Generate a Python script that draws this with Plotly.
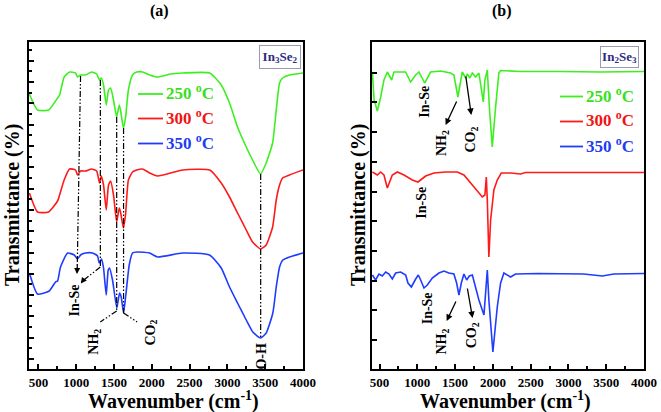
import plotly.graph_objects as go

# ---------------- data: panel (a) In3Se2 ----------------
wn_a_250 = [380, 488, 634, 753, 780, 840, 912, 990, 1017, 1057, 1123, 1202, 1270, 1308, 1331, 1361, 1397, 1427, 1455,
            1493, 1535, 1569, 1586, 1624, 1652, 1690, 1745, 1800, 1878, 1971, 2076, 2250, 2409, 2766, 2918, 3028, 3134,
            3249, 3333, 3438, 3513, 3598, 3646, 3690, 3730, 3820, 4000]
t_a_250 = [275, 259, 259, 271, 274, 292, 297, 296, 292, 294, 294, 297, 295, 289, 291, 284, 264, 279, 281,
           269, 252, 264, 259, 241, 251, 279, 294, 297, 297, 294, 292, 295, 296, 296, 284, 266, 242,
           222, 209, 195, 206, 226, 259, 286, 291, 294, 296]

wn_a_300 = [380, 488, 634, 753, 780, 840, 912, 990, 1017, 1057, 1123, 1202, 1270, 1308, 1331, 1361, 1397, 1427, 1455,
            1493, 1535, 1569, 1586, 1624, 1652, 1690, 1745, 1800, 1878, 1971, 2076, 2409, 2766, 2918, 3028, 3134,
            3249, 3333, 3438, 3513, 3598, 3646, 3690, 3730, 3820, 4000]
t_a_300 = [176, 157, 157, 168, 174, 189, 200, 199, 194, 198, 198, 200, 198, 186, 193, 184, 159, 184, 188,
           174, 147, 161, 157, 141, 154, 189, 197, 199, 200, 196, 193, 199, 199, 186, 172, 156,
           139, 127, 120, 124, 142, 169, 184, 191, 194, 199]

wn_a_350 = [380, 488, 643, 726, 753, 792, 885, 974, 1017, 1057, 1123, 1216, 1282, 1304, 1335, 1361, 1397, 1423, 1440,
            1480, 1537, 1573, 1595, 1626, 1656, 1701, 1745, 1811, 1970, 2076, 2406, 2763, 2918, 3028, 3134, 3249,
            3336, 3438, 3513, 3601, 3646, 3690, 3733, 3822, 4000]
t_a_350 = [96, 75, 78, 87, 88, 102, 116, 114, 110, 114, 116, 116, 113, 106, 110, 101, 74, 99, 101,
           89, 61, 76, 72, 56, 74, 104, 116, 117, 116, 112, 116, 114, 101, 82, 66, 49,
           37, 31, 36, 56, 82, 102, 109, 112, 116]

# ---------------- data: panel (b) In2Se3 ----------------
wn_b_250 = [405, 428, 471, 515, 558, 603, 660, 690, 845, 911, 978, 1022, 1097, 1176, 1308, 1440, 1484, 1537, 1595,
            1639, 1661, 1696, 1728, 1771, 1815, 1837, 1873, 1894, 1926, 1956, 1992, 2036, 2079, 2102, 2366, 2895,
            3425, 4000]
t_b_250 = [297, 269, 258, 272, 289, 297, 289, 297, 297, 287, 294, 297, 286, 297, 298, 296, 294, 272, 297,
           291, 295, 291, 296, 292, 296, 284, 267, 289, 299, 259, 222, 262, 296, 298.5, 297.5, 297.5,
           297, 297.5]

wn_b_300 = [405, 471, 515, 558, 603, 638, 669, 736, 823, 934, 1008, 1110, 1220, 1374, 1529, 1617, 1705, 1794, 1860,
            1894, 1913, 1926, 1947, 1970, 2013, 2058, 2111, 2234, 2366, 2432, 4000]
t_b_300 = [197, 194, 197, 194, 181, 189, 194, 197, 194, 189, 187, 193, 196, 197, 197, 194, 186, 177, 172,
           174, 192, 169, 112, 149, 179, 189, 196, 196, 195, 196.5, 196.5]

wn_b_350 = [405, 448, 492, 536, 581, 625, 669, 713, 780, 846, 876, 921, 978, 1013, 1044, 1088, 1132, 1198, 1286,
            1352, 1418, 1484, 1520, 1551, 1582, 1617, 1653, 1688, 1728, 1771, 1815, 1882, 1900, 1926, 1947, 2000,
            2058, 2102, 2146, 2234, 2300, 2600, 3200, 3450, 3600, 4000]
t_b_350 = [94, 89, 95, 93, 97, 95, 90, 96, 97, 94, 86, 82, 90, 94, 89, 81, 84, 91, 96,
           98, 96, 95, 86, 74, 86, 95, 89, 93, 94, 82, 69, 54, 69, 99, 69, 17,
           62, 86, 96, 92, 95, 95.5, 95, 93, 95, 95.5]

series_names = ["250 <sup>o</sup>C", "300 <sup>o</sup>C", "350 <sup>o</sup>C"]
line_colors = ["#3cf020", "#ff1a1a", "#1f3cff"]
text_colors = ["#38e01c", "#f01414", "#1f3cf0"]

W, H = 661, 412
FONT = "Liberation Serif"


def px(x):
    return x / W


def py(y):
    return 1 - y / H


fig = go.Figure()
panel_a = [(wn_a_250, t_a_250), (wn_a_300, t_a_300), (wn_a_350, t_a_350)]
panel_b = [(wn_b_250, t_b_250), (wn_b_300, t_b_300), (wn_b_350, t_b_350)]
for i, (xs, ys) in enumerate(panel_a):
    fig.add_trace(go.Scatter(x=xs, y=ys, mode="lines", xaxis="x", yaxis="y", showlegend=False,
                             line=dict(color=line_colors[i], width=1.6, shape="spline", smoothing=0.5)))
for i, (xs, ys) in enumerate(panel_b):
    fig.add_trace(go.Scatter(x=xs, y=ys, mode="lines", xaxis="x2", yaxis="y2", showlegend=False,
                             line=dict(color=line_colors[i], width=1.6)))

tickfont = dict(family=FONT, size=13, color="black", weight="bold")
common_x = dict(range=[375, 4000], tickvals=[500, 1000, 1500, 2000, 2500, 3000, 3500, 4000],
                ticks="inside", ticklen=5, tickwidth=1.5, tickcolor="black",
                minor=dict(ticks="inside", ticklen=3, dtick=250, tick0=0, tickcolor="black"),
                showline=True, linewidth=2, linecolor="black", mirror=True, showgrid=False, zeroline=False,
                tickfont=tickfont, fixedrange=True, automargin=False)
common_y = dict(range=[0, 327], showticklabels=False, ticks="inside", ticklen=5, tickwidth=1.5,
                tickcolor="black", showline=True, linewidth=2, linecolor="black", mirror=True,
                showgrid=False, zeroline=False, automargin=False, fixedrange=True)
ydom = [py(369), py(42)]
fig.update_layout(
    template="none",
    width=W, height=H, margin=dict(l=0, r=0, t=0, b=0, autoexpand=False),
    paper_bgcolor="white", plot_bgcolor="white",
    xaxis=dict(domain=[px(29), px(303)], anchor="y", **common_x),
    xaxis2=dict(domain=[px(372), px(644)], anchor="y2", **{**common_x, "range": [400, 4000]}),
    yaxis=dict(domain=ydom, anchor="x", tick0=10, dtick=21.3,
               minor=dict(ticks="inside", ticklen=3, dtick=10.65, tick0=10, tickcolor="black"), **common_y),
    yaxis2=dict(domain=ydom, anchor="x2", tick0=29, dtick=29.7, **common_y),
)

ann = []
shapes = []
C = dict(xanchor="center", yanchor="middle", showarrow=False)

# panel labels and axis titles
for x, t in [(159, "(a)"), (502, "(b)")]:
    ann.append(dict(x=px(x), y=py(11), xref="paper", yref="paper", text="<b>%s</b>" % t,
                    font=dict(family=FONT, size=16, color="black"), **C))
for x in [173, 505]:
    ann.append(dict(x=px(x), y=py(400), xref="paper", yref="paper",
                    text="<b>Wavenumber (cm<sup>-1</sup>)</b>",
                    font=dict(family=FONT, size=20, color="black"), **C))
for x in [12, 358]:
    ann.append(dict(x=px(x), y=py(205), xref="paper", yref="paper", text="<b>Transmittance (%)</b>",
                    textangle=-90, font=dict(family=FONT, size=20, color="black"), **C))

# legends
for (x0, x1, ys) in [(138, 163, [94, 118.5, 143.5]), (560, 583, [96.5, 121.5, 146.5])]:
    for i, y in enumerate(ys):
        shapes.append(dict(type="line", xref="paper", yref="paper", x0=px(x0), x1=px(x1), y0=py(y), y1=py(y),
                           line=dict(color=line_colors[i], width=1.8)))
        ann.append(dict(x=px(x1 + 1), y=py(y - 2), xref="paper", yref="paper", xanchor="left", yanchor="middle",
                        text="<b>%s</b>" % series_names[i], showarrow=False,
                        font=dict(family=FONT, size=17, color=text_colors[i])))

# compound boxes
for (cx, cy, w, h, t) in [(279.5, 57, 38, 20, "In<sub>3</sub>Se<sub>2</sub>"),
                          (619.5, 56.5, 35, 18, "In<sub>2</sub>Se<sub>3</sub>")]:
    ann.append(dict(x=px(cx), y=py(cy), xref="paper", yref="paper", text="<b>%s</b>" % t,
                    width=w, height=h, bordercolor="#9a9ab4", borderwidth=1, borderpad=1, bgcolor="white",
                    font=dict(family=FONT, size=13, color="#2c2c80"), **C))

# panel (a): dash-dot guide lines with arrowheads
dd = dict(color="black", width=1.2, dash="6px,2px,1.5px,2px,1.5px,2px")
segs_a = [
    (1057, 293, 1013, 100),
    (1319, 289, 1319, 102), (1319, 102, 1066, 87),
    (1535, 252, 1535, 58), (1535, 58, 1318, 47),
    (1626, 241, 1626, 56), (1626, 56, 1805, 47),
    (3440, 195, 3440, 31),
]
for (x0, y0, x1, y1) in segs_a:
    shapes.append(dict(type="line", xref="x", yref="y", x0=x0, y0=y0, x1=x1, y1=y1, line=dd))
heads_a = [((1015, 106), (1010, 95)), ((1090, 88.5), (1061, 85.5)), ((1340, 48), (1308, 46)),
           ((1790, 48), (1815, 46))]
for (tail, head) in heads_a:
    ann.append(dict(x=head[0], y=head[1], ax=tail[0], ay=tail[1], xref="x", yref="y", axref="x", ayref="y",
                    text="", showarrow=True, arrowhead=2, arrowsize=1, arrowwidth=1.2, arrowcolor="black",
                    standoff=0, startstandoff=0))

labels_a = [(964, 68, "In-Se"), (1230, 27, "NH<sub>2</sub>"), (1983, 36, "CO<sub>2</sub>"), (3439, 13, "O-H")]
for (x, y, t) in labels_a:
    ann.append(dict(x=x, y=y, xref="x", yref="y", text="<b>%s</b>" % t, textangle=-90,
                    font=dict(family=FONT, size=14, color="black"), **C))

# panel (b): arrows and labels
arrows_b = [((1529, 269), (1374, 244)), ((1639, 294), (1714, 254)),
            ((1520, 69), (1388, 48)), ((1659, 82), (1731, 51))]
for (tail, head) in arrows_b:
    ann.append(dict(x=head[0], y=head[1], ax=tail[0], ay=tail[1], xref="x2", yref="y2", axref="x2", ayref="y2",
                    text="", showarrow=True, arrowhead=2, arrowsize=1, arrowwidth=1.3, arrowcolor="black",
                    standoff=0, startstandoff=0))
labels_b = [(1097, 267, "In-Se"), (1341, 226, "NH<sub>2</sub>"), (1718, 229, "CO<sub>2</sub>"),
            (1057, 166, "In-Se"),
            (1132, 61, "In-Se"), (1328, 27.5, "NH<sub>2</sub>"), (1728, 34, "CO<sub>2</sub>")]
for (x, y, t) in labels_b:
    ann.append(dict(x=x, y=y, xref="x2", yref="y2", text="<b>%s</b>" % t, textangle=-90,
                    font=dict(family=FONT, size=14, color="black"), **C))

fig.update_layout(annotations=ann, shapes=shapes)
# remove the default page margin so the 661x412 figure fills the window exactly
fig.write_html("out.html", config={"displayModeBar": False},
               post_script="document.body.style.margin='0';document.body.style.overflow='hidden';")
